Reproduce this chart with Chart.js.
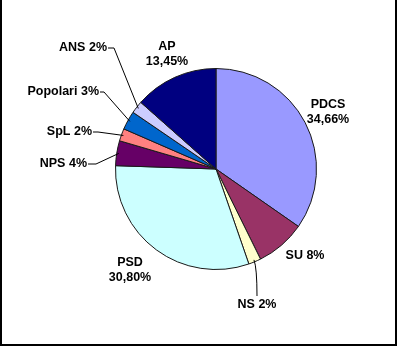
<!DOCTYPE html>
<html>
<head>
<meta charset="utf-8">
<script src="https://cdn.jsdelivr.net/npm/chart.js@4/dist/chart.umd.min.js"></script>
<style>
html,body{margin:0;padding:0;background:#fff;}
#wrap{width:397px;height:346px;position:relative;}
</style>
</head>
<body>
<div id="wrap"><canvas id="c" width="397" height="346"></canvas></div>
<script>
// ---- data ----
const categories = ["PDCS", "SU", "NS", "PSD", "NPS", "SpL", "Popolari", "ANS", "AP"];
const values = [34.66, 8, 2, 30.80, 4, 2, 3, 2, 13.45];
const valueLabels = ["34,66%", "8%", "2%", "30,80%", "4%", "2%", "3%", "2%", "13,45%"];
const colors = ["#9999FF", "#993366", "#FFFFCC", "#CCFFFF", "#660066", "#FF8080", "#0066CC", "#CCCCFF", "#000080"];

// ---- label layout (offsets from pie centre, px) ----
const labelLayout = [
  {mode: 'two', dx: 112, dy: -64},
  {mode: 'one', dx: 89, dy: 87},
  {mode: 'down', dx: 41, dy: 136, lx: 41, ly: 127},
  {mode: 'two', dx: -86, dy: 94},
  {mode: 'left', dx: -129, dy: -5, ex: -120, ey: -5},
  {mode: 'left', dx: -124, dy: -37, ex: -118, ey: -37},
  {mode: 'left', dx: -117, dy: -77, ex: -112, ey: -77},
  {mode: 'left', dx: -109, dy: -121, ex: -102, ey: -121},
  {mode: 'two', dx: -49, dy: -122}
];

const bgPlugin = {
  id: 'bg',
  beforeDraw(chart) {
    const ctx = chart.ctx;
    ctx.save();
    ctx.fillStyle = '#fff';
    ctx.fillRect(0, 0, chart.width, chart.height);
    ctx.restore();
  },
  afterDraw(chart) {
    const ctx = chart.ctx;
    const meta = chart.getDatasetMeta(0);
    ctx.save();
    ctx.font = 'bold 12.5px "Liberation Sans", Arial, sans-serif';
    ctx.fillStyle = '#000';
    ctx.strokeStyle = '#000';
    ctx.lineWidth = 1;
    ctx.textBaseline = 'middle';
    meta.data.forEach((arc, i) => {
      const L = labelLayout[i];
      const cx = arc.x, cy = arc.y, r = arc.outerRadius;
      const mid = (arc.startAngle + arc.endAngle) / 2;
      const px = cx + Math.cos(mid) * (r - 2), py = cy + Math.sin(mid) * (r - 2);
      const tx = cx + L.dx, ty = cy + L.dy;
      if (L.mode === 'two') {
        ctx.textAlign = 'center';
        ctx.fillText(categories[i], tx, ty);
        ctx.fillText(valueLabels[i], tx, ty + 15);
      } else if (L.mode === 'one') {
        ctx.textAlign = 'center';
        ctx.fillText(categories[i] + ' ' + valueLabels[i], tx, ty);
      } else if (L.mode === 'down') {
        ctx.textAlign = 'center';
        ctx.fillText(categories[i] + ' ' + valueLabels[i], tx, ty);
        ctx.beginPath();
        ctx.moveTo(px, py);
        ctx.quadraticCurveTo(cx + L.lx, py + 8, cx + L.lx, cy + L.ly);
        ctx.stroke();
      } else if (L.mode === 'left') {
        ctx.textAlign = 'right';
        ctx.fillText(categories[i] + ' ' + valueLabels[i], tx, ty);
        ctx.beginPath();
        ctx.moveTo(tx + 1, ty);
        ctx.lineTo(cx + L.ex, cy + L.ey);
        ctx.lineTo(px, py);
        ctx.stroke();
      }
    });
    // frame
    ctx.fillStyle = '#000';
    ctx.fillRect(0, 0, 2, chart.height);
    ctx.fillRect(chart.width - 2, 0, 2, chart.height);
    ctx.fillRect(0, chart.height - 2, chart.width, 2);
    ctx.restore();
  }
};

new Chart(document.getElementById('c'), {
  type: 'pie',
  data: {
    labels: categories,
    datasets: [{
      data: values,
      backgroundColor: colors,
      borderColor: '#1a1a1a',
      borderWidth: 1
    }]
  },
  options: {
    responsive: false,
    animation: false,
    events: [],
    layout: {padding: {left: 115, right: 80, top: 68, bottom: 76}},
    plugins: {legend: {display: false}, tooltip: {enabled: false}}
  },
  plugins: [bgPlugin]
});
</script>
</body>
</html>
